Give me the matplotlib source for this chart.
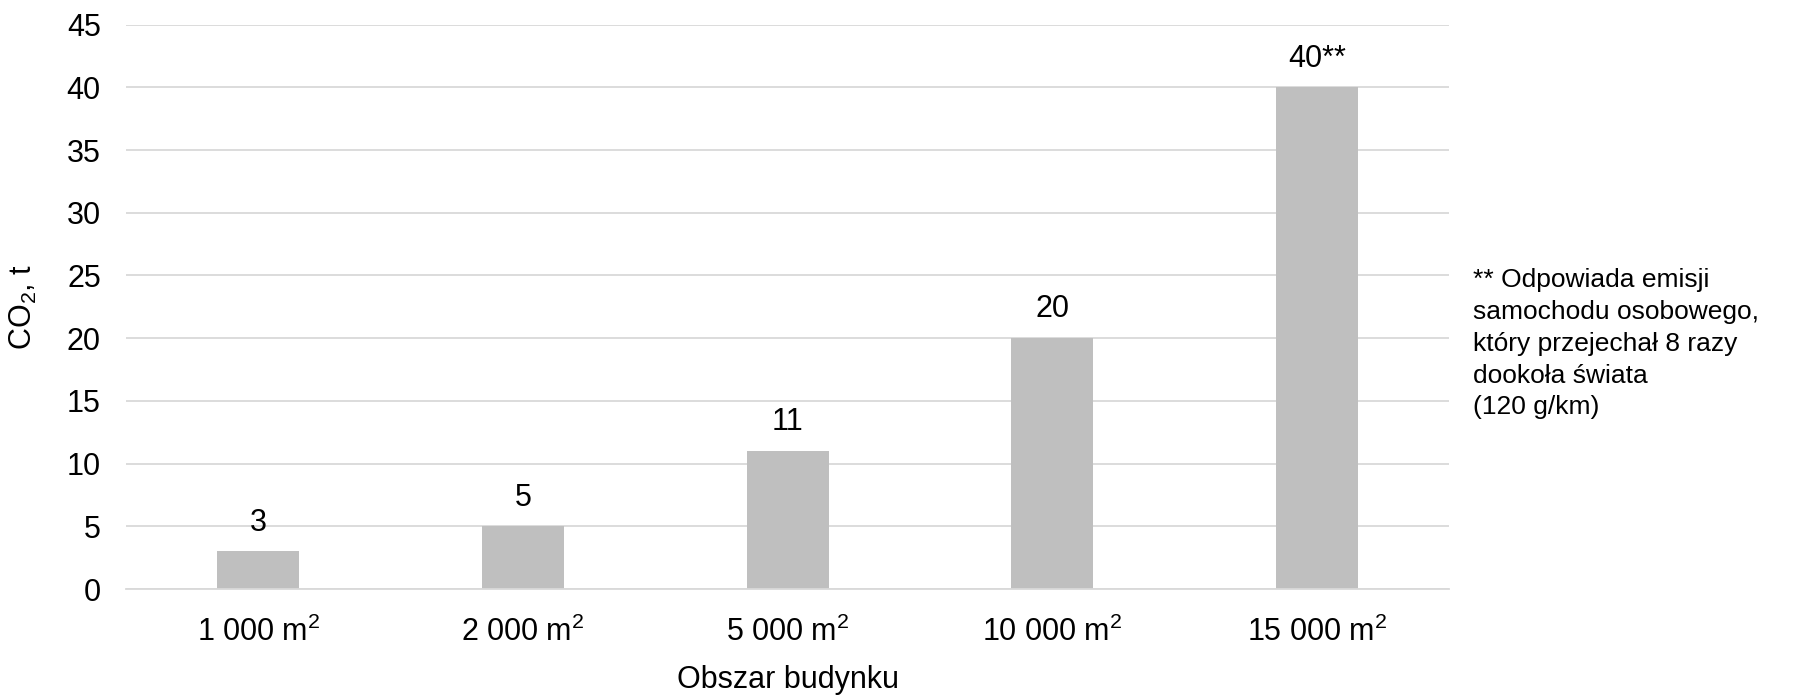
import numpy as np
import matplotlib
matplotlib.use("Agg")
import matplotlib.pyplot as plt

plt.rcParams['font.family'] = ['Liberation Sans', 'DejaVu Sans']
plt.rcParams['mathtext.fontset'] = 'custom'
plt.rcParams['mathtext.rm'] = 'Liberation Sans'
plt.rcParams['mathtext.it'] = 'Liberation Sans'

categories = ["1 000 m$^2$", "2 000 m$^2$", "5 000 m$^2$", "10 000 m$^2$", "15 000 m$^2$"]
values = [3, 5, 11, 20, 40]
bar_labels = ["3", "5", "11", "20", "40**"]
yticks = [0, 5, 10, 15, 20, 25, 30, 35, 40, 45]
note = "** Odpowiada emisji\nsamochodu osobowego,\nktóry przejechał 8 razy\ndookoła świata\n(120 g/km)"

fig = plt.figure(figsize=(17.98, 6.95), dpi=100)
ax = fig.add_axes([0.070, 0.1525, 0.736, 0.812])

x = np.arange(len(values))
ax.bar(x, values, width=0.31, color="#BFBFBF", zorder=2)
for xi, v, lab in zip(x, values, bar_labels):
    ax.text(xi, v + 1.1, lab, ha="center", va="bottom", fontsize=22)

ax.set_ylim(0, 45)
ax.set_xlim(-0.5, len(values) - 0.5)
ax.set_yticks(yticks)
ax.set_xticks(x)
ax.set_xticklabels(categories)
ax.tick_params(axis="both", length=0, labelsize=22)
ax.tick_params(axis="y", pad=18)
ax.tick_params(axis="x", pad=20)
ax.grid(axis="y", color="#D9D9D9", linewidth=1.3, zorder=0)
for s in ["top", "right", "left"]:
    ax.spines[s].set_visible(False)
ax.spines["bottom"].set_color("#D9D9D9")
ax.spines["bottom"].set_linewidth(1.3)

ax.set_ylabel("CO$_2$, t", fontsize=22, labelpad=20)
ax.set_xlabel("Obszar budynku", fontsize=22, labelpad=12)

fig.text(0.819, 0.615, note, fontsize=19, ha="left", va="top", linespacing=1.42)

fig.savefig("out.png", dpi=100)
